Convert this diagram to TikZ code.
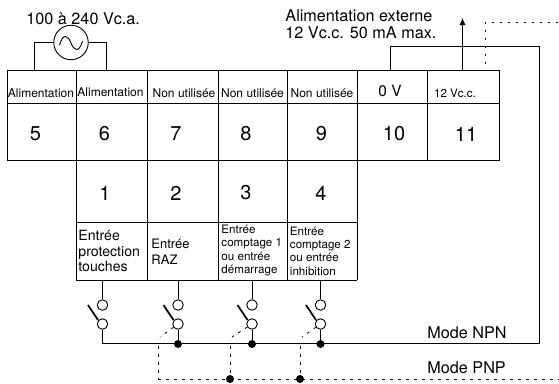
\documentclass[tikz,border=0pt]{standalone}
\usepackage{fontspec}
\setmainfont{TeX Gyre Heros}
\usetikzlibrary{arrows.meta}
\tikzset{
	cell/.style={inner sep=0pt,font=\fontsize{12}{13}\selectfont},
	num/.style={inner sep=0pt,font=\fontsize{20}{22}\selectfont},
	note/.style={inner sep=0pt,anchor=west,align=left,font=\fontsize{16.2}{17.5}\selectfont},
	cond/.style={inner sep=0pt,anchor=west,align=left,font=\fontsize{11.6}{13.4}\selectfont},
	contact/.style={circle,draw,fill=white,minimum size=10.5pt,inner sep=0pt},
	joint/.style={circle,fill=black,minimum size=8pt,inner sep=0pt},
	pnp/.style={dash pattern=on 2.5pt off 5.5pt},
}
\begin{document}
\begin{tikzpicture}[x=1pt,y=-1pt,line width=.9pt]
	\useasboundingbox (0,0) rectangle (559,383);
	% terminal block
	\draw (7,70.5) rectangle (499,160);
	\draw (7,103.5)--(499,103.5);
	\draw (76,222)--(357,222);
	\draw (76,280)--(357,280);
	\foreach \xx in {76,147.5,218,287.5,357}
	{
		\draw (\xx,70.5)--(\xx,280);
	}
	\draw (427,70.5)--(427,160);
	% upper labels
	\node[cell] (lab5) at (41,93.5) {Alimentation};
	\node[cell] (lab6) at (110.5,92.5) {Alimentation};
	\node[cell] (lab7) at (184,93) {Non utilisée};
	\node[cell] (lab8) at (252.5,93) {Non utilisée};
	\node[cell] (lab9) at (322,93) {Non utilisée};
	\node[inner sep=0pt,font=\fontsize{15.4}{16}\selectfont] (lab10) at (390,91) {0 V};
	\node[cell,font=\fontsize{11.6}{13}\selectfont] (lab11) at (455,93) {12 Vc.c.};
	\foreach \nn/\xx in {5/35.5,6/104.5,7/176,8/246,9/321.5,10/394,11/466}
	{
		\node[num] (n\nn) at (\xx,134) {\nn};
	}
	\foreach \nn/\xx in {1/105,2/176,3/246,4/321}
	{
		\node[num] (n\nn) at (\xx,193) {\nn};
	}
	% lower labels
	\node[note,font=\fontsize{14.1}{15.6}\selectfont] (in1) at (78,251) {Entrée\\protection\\touches};
	\node[note,font=\fontsize{13}{16}\selectfont] (in2) at (151,252) {Entrée\\RAZ};
	\node[cond] (in3) at (221,250.5) {Entrée\\comptage 1\\ou entrée\\démarrage};
	\node[cond] (in4) at (289.5,251) {Entrée\\comptage 2\\ou entrée\\inhibition};
	% supply
	\node[circle,draw,minimum size=34.5pt,inner sep=0pt] (ac) at (71,42.5) {};
	\draw (ac.west)--(34.5,42.5)--(34.5,70.5);
	\draw (ac.east)--(106,42.5)--(106,70.5);
	\draw (59.5,45) .. controls (63,33) and (68,35) .. (71,43) .. controls (74,51) and (79,53) .. (82.5,41);
	\node[note] (acv) at (26,19) {100 à 240 Vc.a.};
	\node[note] (ext) at (285,24) {Alimentation externe\\12 Vc.c. 50 mA max.};
	% external supply
	\coordinate (zero) at (390.5,70.5);
	\coordinate (npnend) at (103,343.5);
	\draw (zero)--(390.5,46.5)--(539.5,46.5)--(539.5,343.5)--(npnend);
	\coordinate (twelve) at (462.5,70.5);
	\coordinate (twelvetop) at (462.5,18);
	\draw[-{Latex[length=7pt,width=6pt]}] (twelve)--(twelvetop);
	\coordinate (pnpa) at (485,64);
	\coordinate (pnpb) at (559,22.5);
	\draw[pnp] (pnpa)--(485,22.5)--(pnpb);
	% switches
	\foreach \nn/\xx in {1/102.5,2/178,3/252,4/320.5}
	{
		\coordinate (top\nn) at (\xx,280);
		\node[contact] (up\nn) at (\xx,305) {};
		\node[contact] (lo\nn) at (\xx,324) {};
		\draw (top\nn)--(up\nn);
		\draw[line width=1.7pt] (\xx-14.5,305)--(\xx-4.5,320);
	}
	\draw (lo1)--(102.5,343.5);
	\coordinate (pnpend) at (559,379);
	\coordinate (pnpstart) at (158,379);
	\draw[pnp] (pnpstart)--(pnpend);
	\foreach \nn/\xx/\yy in {2/178/158,3/252/230,4/320.5/300}
	{
		\node[joint] (dot\nn) at (\xx,344) {};
		\draw (lo\nn)--(dot\nn);
		\draw[pnp] (lo\nn)--(\yy+2,337);
	}
	\node[joint] (dotp3) at (230,379) {};
	\node[joint] (dotp4) at (300,379) {};
	\coordinate (dropa) at (158,346);
	\coordinate (dropb) at (230,346);
	\coordinate (dropc) at (300,346);
	\draw[pnp] (dropa)--(pnpstart);
	\draw[pnp] (dropb)--(dotp3);
	\draw[pnp] (dropc)--(dotp4);
	\node[note] (npn) at (427,333) {Mode NPN};
	\node[note] (pnpmode) at (427,368) {Mode PNP};
\end{tikzpicture}
\end{document}
